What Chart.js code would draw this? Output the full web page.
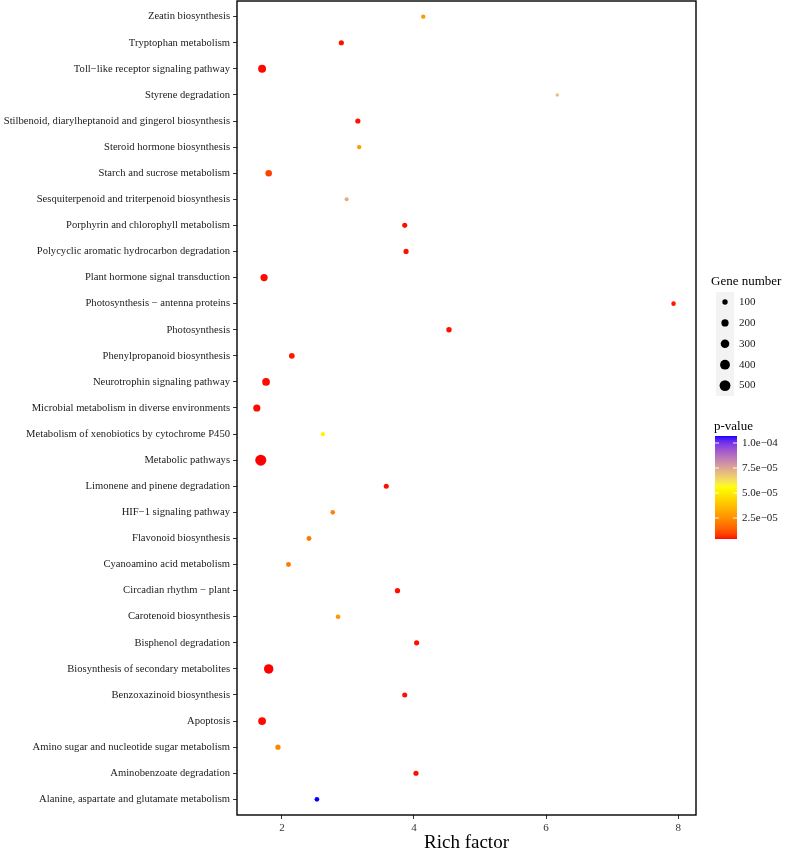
<!DOCTYPE html>
<html>
<head>
<meta charset="utf-8">
<script src="https://cdn.jsdelivr.net/npm/chart.js@4.4.1/dist/chart.umd.min.js"></script>
<style>
html,body{margin:0;padding:0;background:#fff;}
#wrap{width:787px;height:849px;position:relative;}
</style>
</head>
<body>
<div id="wrap"><canvas id="c"></canvas></div>
<script>
const categories = [
  "Zeatin biosynthesis",
  "Tryptophan metabolism",
  "Toll\u2212like receptor signaling pathway",
  "Styrene degradation",
  "Stilbenoid, diarylheptanoid and gingerol biosynthesis",
  "Steroid hormone biosynthesis",
  "Starch and sucrose metabolism",
  "Sesquiterpenoid and triterpenoid biosynthesis",
  "Porphyrin and chlorophyll metabolism",
  "Polycyclic aromatic hydrocarbon degradation",
  "Plant hormone signal transduction",
  "Photosynthesis \u2212 antenna proteins",
  "Photosynthesis",
  "Phenylpropanoid biosynthesis",
  "Neurotrophin signaling pathway",
  "Microbial metabolism in diverse environments",
  "Metabolism of xenobiotics by cytochrome P450",
  "Metabolic pathways",
  "Limonene and pinene degradation",
  "HIF\u22121 signaling pathway",
  "Flavonoid biosynthesis",
  "Cyanoamino acid metabolism",
  "Circadian rhythm \u2212 plant",
  "Carotenoid biosynthesis",
  "Bisphenol degradation",
  "Biosynthesis of secondary metabolites",
  "Benzoxazinoid biosynthesis",
  "Apoptosis",
  "Amino sugar and nucleotide sugar metabolism",
  "Aminobenzoate degradation",
  "Alanine, aspartate and glutamate metabolism"
];
const richFactor = [
  4.14, 2.90, 1.70, 6.17, 3.15, 3.17, 1.80, 2.98, 3.86, 3.88,
  1.73, 7.93, 4.53, 2.15, 1.76, 1.62, 2.62, 1.68, 3.58, 2.77,
  2.41, 2.10, 3.75, 2.85, 4.04, 1.80, 3.86, 1.70, 1.94, 4.03, 2.53
];
const geneNumber = [
  60, 90, 250, 30, 90, 60, 160, 50, 85, 90,
  200, 65, 100, 120, 230, 200, 60, 520, 85, 65,
  80, 80, 95, 70, 90, 370, 85, 240, 90, 90, 70
];
const pValue = [
  2.8e-5, 4.5e-6, 4.3e-6, 7.0e-5, 4.5e-6, 2.8e-5, 9.0e-6, 7.3e-5, 4.5e-6, 4.5e-6,
  4.3e-6, 4.8e-6, 4.5e-6, 5.0e-6, 4.3e-6, 4.3e-6, 5.2e-5, 4.0e-6, 4.5e-6, 2.2e-5,
  2.0e-5, 2.0e-5, 4.5e-6, 2.7e-5, 4.5e-6, 4.0e-6, 4.5e-6, 4.3e-6, 2.3e-5, 4.5e-6, 1.07e-4
];
const xTicks = [2, 4, 6, 8];
const sizeBreaks = [100, 200, 300, 400, 500];
const colorBreaks = [2.5e-5, 5.0e-5, 7.5e-5, 1.0e-4];
const colorBreakLabels = ["2.5e\u221205", "5.0e\u221205", "7.5e\u221205", "1.0e\u221204"];
const gradientColours = ["#FF0000", "#FFFF00", "#0000FF"];

// ---- colour helpers (Lab interpolation like ggplot) ----
function hexToRgb(h){return [parseInt(h.slice(1,3),16),parseInt(h.slice(3,5),16),parseInt(h.slice(5,7),16)];}
function toLin(c){c/=255;return c<=0.04045?c/12.92:Math.pow((c+0.055)/1.055,2.4);}
function fromLin(c){c=c<=0.0031308?12.92*c:1.055*Math.pow(c,1/2.4)-0.055;return Math.max(0,Math.min(255,Math.round(c*255)));}
function rgbToLab(rgb){
  const r=toLin(rgb[0]),g=toLin(rgb[1]),b=toLin(rgb[2]);
  let X=(0.4124*r+0.3576*g+0.1805*b)/0.95047, Y=(0.2126*r+0.7152*g+0.0722*b), Z=(0.0193*r+0.1192*g+0.9505*b)/1.08883;
  const f=t=>t>0.008856?Math.cbrt(t):7.787*t+16/116;
  const fx=f(X),fy=f(Y),fz=f(Z);
  return [116*fy-16,500*(fx-fy),200*(fy-fz)];
}
function labToRgb(lab){
  const fy=(lab[0]+16)/116, fx=fy+lab[1]/500, fz=fy-lab[2]/200;
  const fi=t=>{const t3=t*t*t;return t3>0.008856?t3:(t-16/116)/7.787;};
  const X=fi(fx)*0.95047,Y=fi(fy),Z=fi(fz)*1.08883;
  const r= 3.2406*X-1.5372*Y-0.4986*Z;
  const g=-0.9689*X+1.8758*Y+0.0415*Z;
  const b= 0.0557*X-0.2040*Y+1.0570*Z;
  return [fromLin(r),fromLin(g),fromLin(b)];
}
const labStops = gradientColours.map(h=>rgbToLab(hexToRgb(h)));
const pMin = Math.min(...pValue), pMax = Math.max(...pValue);
function colourFor(p){
  let t=(p-pMin)/(pMax-pMin); t=Math.max(0,Math.min(1,t));
  const seg=t*(labStops.length-1); let i=Math.floor(seg); if(i>=labStops.length-1)i=labStops.length-2;
  const u=seg-i, a=labStops[i], b=labStops[i+1];
  const rgb=labToRgb([a[0]+(b[0]-a[0])*u,a[1]+(b[1]-a[1])*u,a[2]+(b[2]-a[2])*u]);
  return `rgb(${rgb[0]},${rgb[1]},${rgb[2]})`;
}
function radiusFor(n){return 0.22*Math.sqrt(n)+0.5;}

const points = categories.map((c,i)=>({x:richFactor[i], y:i, r:radiusFor(geneNumber[i])}));
const colours = pValue.map(colourFor);

const SERIF = "'Liberation Serif','Times New Roman',serif";

const framePlugin = {
  id:'frame',
  afterDatasetsDraw(chart){
    const {ctx, chartArea:a} = chart;
    ctx.save();
    ctx.strokeStyle='#000'; ctx.lineWidth=1.4;
    ctx.strokeRect(a.left, a.top, a.right-a.left, a.bottom-a.top);
    ctx.restore();
  },
  afterDraw(chart){
    const ctx=chart.ctx;
    ctx.save();
    // size legend
    ctx.fillStyle='#000';
    ctx.font="13px "+SERIF;
    ctx.textBaseline='middle'; ctx.textAlign='left';
    ctx.fillText("Gene number", 711, 282);
    ctx.fillStyle='#f3f3f3';
    ctx.fillRect(716, 292, 18, 104);
    sizeBreaks.forEach((n,k)=>{
      const cy = 302 + k*20.9;
      ctx.beginPath(); ctx.fillStyle='#000';
      ctx.arc(725, cy, radiusFor(n), 0, Math.PI*2); ctx.fill();
      ctx.font="11px "+SERIF; ctx.fillStyle='#1a1a1a';
      ctx.fillText(String(n), 739, cy);
    });
    // colour bar
    ctx.fillStyle='#000'; ctx.font="13px "+SERIF;
    ctx.fillText("p-value", 714, 427);
    const bx=715, bw=22, bTop=436, bBot=539;
    for(let yy=bTop; yy<bBot; yy++){
      const p = pMin + (bBot-yy-0.5)/(bBot-bTop)*(pMax-pMin);
      ctx.fillStyle=colourFor(p);
      ctx.fillRect(bx, yy, bw, 1);
    }
    colorBreaks.forEach((p,k)=>{
      const yy = bBot - (p-pMin)/(pMax-pMin)*(bBot-bTop);
      ctx.strokeStyle='rgba(255,255,255,0.9)'; ctx.lineWidth=1;
      ctx.beginPath(); ctx.moveTo(bx, yy); ctx.lineTo(bx+4, yy);
      ctx.moveTo(bx+bw-4, yy); ctx.lineTo(bx+bw, yy); ctx.stroke();
      ctx.fillStyle='#1a1a1a'; ctx.font="11px "+SERIF;
      ctx.fillText(colorBreakLabels[k], 742, yy);
    });
    ctx.restore();
  }
};

new Chart(document.getElementById('c'), {
  type:'bubble',
  data:{datasets:[{
    data: points,
    backgroundColor: colours,
    borderWidth: 0,
    hoverBorderWidth: 0
  }]},
  options:{
    responsive:true, maintainAspectRatio:false, animation:false,
    layout:{autoPadding:false, padding:{top:1, right:91, left:0, bottom:0}},
    plugins:{legend:{display:false}, tooltip:{enabled:false}},
    events:[],
    scales:{
      x:{
        type:'linear', min:1.32, max:8.27,
        afterBuildTicks(s){ s.ticks = xTicks.map(v=>({value:v})); },
        afterFit(s){ s.height = 34; s.paddingLeft = 0; s.paddingRight = 0; },
        grid:{drawOnChartArea:false, drawTicks:true, tickLength:4, tickColor:'#333', tickWidth:1},
        border:{display:false},
        ticks:{font:{family:SERIF, size:11}, color:'#333', padding:3, callback:v=>String(v), maxRotation:0},
        title:{display:true, text:'Rich factor', font:{family:SERIF, size:19}, color:'#000', padding:{top:0,bottom:-5}}
      },
      y:{
        type:'linear', min:-0.6, max:categories.length-0.4, reverse:true,
        afterBuildTicks(s){ s.ticks = categories.map((c,i)=>({value:i})); },
        afterFit(s){ s.width = 237; s.paddingTop = 0; s.paddingBottom = 0; },
        grid:{drawOnChartArea:false, drawTicks:true, tickLength:4, tickColor:'#333', tickWidth:1},
        border:{display:false},
        ticks:{font:{family:SERIF, size:10.6}, color:'#1a1a1a', padding:3, autoSkip:false,
          callback:(v)=>categories[v]}
      }
    }
  },
  plugins:[framePlugin]
});
</script>
</body>
</html>
